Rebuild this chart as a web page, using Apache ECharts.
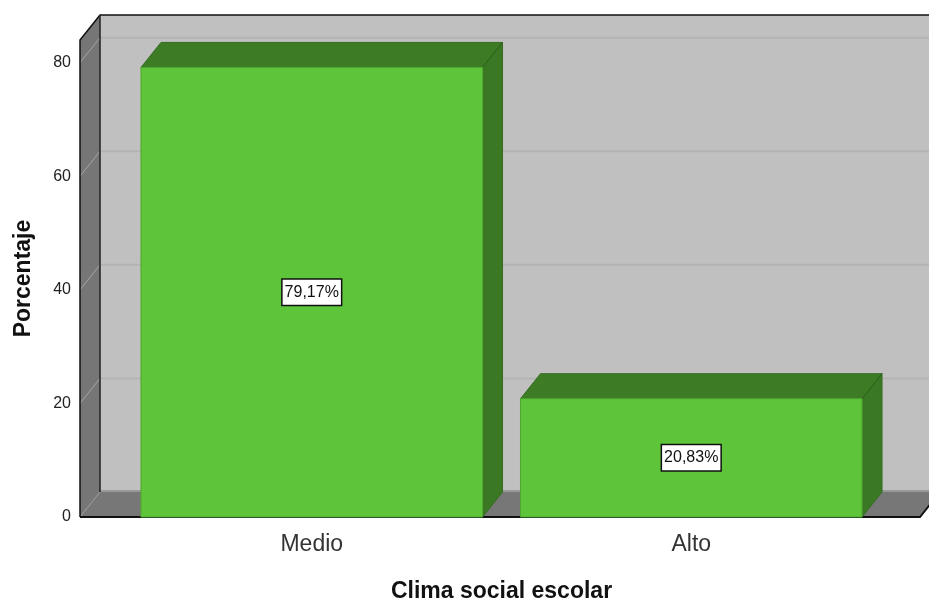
<!DOCTYPE html>
<html>
<head>
<meta charset="utf-8">
<script src="https://cdn.jsdelivr.net/npm/echarts@6.0.0/dist/echarts.min.js"></script>
<style>html,body{margin:0;padding:0;background:#fff}#c{width:929px;height:599px}</style>
</head>
<body>
<div id="c"></div>
<script>
const categories = ['Medio', 'Alto'];
const percentages = [79.17, 20.83];
const yTicks = [0, 20, 40, 60, 80];
const xTitle = 'Clima social escolar';
const yTitle = 'Porcentaje';

const DX = 20, DY = -25;      // 3D depth offset
const PAD_L = 42, PAD_R = 39; // floor extends beyond category band
const FONT = '"Liberation Sans", Arial, sans-serif';

function fmt(v) { return v.toFixed(2).replace('.', ',') + '%'; }

function renderWalls(params, api) {
  const cs = params.coordSys;
  const L = cs.x - PAD_L, R = cs.x + cs.width + PAD_R;
  const T = cs.y, B = cs.y + cs.height;
  const farR = R + DX + 60;
  const ch = [];
  ch.push({ type: 'rect', shape: { x: L + DX, y: T + DY, width: farR - (L + DX), height: B - T }, style: { fill: '#c0c0c0' } });
  yTicks.forEach(v => {
    if (v === 0) return;
    const y = api.coord([0, v])[1];
    ch.push({ type: 'line', shape: { x1: L + DX, y1: y + DY, x2: farR, y2: y + DY }, style: { stroke: '#b3b3b3', lineWidth: 2 } });
  });
  ch.push({ type: 'polygon', shape: { points: [[L, B], [L, T], [L + DX, T + DY], [L + DX, B + DY]] }, style: { fill: '#767676' } });
  yTicks.forEach(v => {
    if (v === 0) return;
    const y = api.coord([0, v])[1];
    ch.push({ type: 'line', shape: { x1: L, y1: y, x2: L + DX, y2: y + DY }, style: { stroke: '#a5a5a5', lineWidth: 1 } });
  });
  ch.push({ type: 'polygon', shape: { points: [[L, B], [L + DX, B + DY], [farR, B + DY], [R + DX, B + DY], [R, B]] }, style: { fill: '#777777' } });
  ch.push({ type: 'line', shape: { x1: L + DX, y1: B + DY - 1, x2: farR, y2: B + DY - 1 }, style: { stroke: '#999999', lineWidth: 2 } });
  ch.push({ type: 'line', shape: { x1: L, y1: B, x2: L + DX, y2: B + DY }, style: { stroke: '#9a9a9a', lineWidth: 1 } });
  const edge = { stroke: '#111', lineWidth: 1.5 };
  ch.push({ type: 'polyline', shape: { points: [[L, B], [L, T], [L + DX, T + DY], [farR, T + DY]] }, style: Object.assign({ fill: null }, edge) });
  ch.push({ type: 'line', shape: { x1: L + DX, y1: T + DY, x2: L + DX, y2: B + DY }, style: { stroke: '#222', lineWidth: 1.5 } });
  ch.push({ type: 'polyline', shape: { points: [[L, B], [R, B], [R + DX, B + DY]] }, style: Object.assign({ fill: null }, edge, { lineWidth: 2 }) });
  return { type: 'group', children: ch };
}

function renderBar(params, api) {
  const cat = api.value(0), val = api.value(1);
  const top = api.coord([cat, val]);
  const base = api.coord([cat, 0]);
  const w = api.size([1, 0])[0] * 0.9;
  const x0 = top[0] - w / 2, x1 = top[0] + w / 2;
  const yT = top[1], yB = base[1];
  return {
    type: 'group',
    children: [
      { type: 'polygon', shape: { points: [[x0, yT], [x0 + DX, yT + DY], [x1 + DX, yT + DY], [x1, yT]] }, style: { fill: '#3d7b25', stroke: '#356d20', lineWidth: 1 } },
      { type: 'polygon', shape: { points: [[x1, yT], [x1 + DX, yT + DY], [x1 + DX, yB + DY], [x1, yB]] }, style: { fill: '#3a7824', stroke: '#356d20', lineWidth: 1 } },
      { type: 'line', shape: { x1: x1, y1: yT, x2: x1 + DX, y2: yT + DY }, style: { stroke: '#2d621a', lineWidth: 1 } },
      { type: 'rect', shape: { x: x0, y: yT, width: w, height: yB - yT }, style: { fill: '#5ec43a', stroke: '#4fa832', lineWidth: 1 } },
      { type: 'text', x: top[0], y: (yT + yB) / 2, style: {
          text: fmt(val), fill: '#111', font: '16px ' + FONT, align: 'center', verticalAlign: 'middle',
          backgroundColor: '#ffffff', borderColor: '#111', borderWidth: 1.5, padding: [5, 2, 4, 2] } }
    ]
  };
}

const chart = echarts.init(document.getElementById('c'));
chart.setOption({
  animation: false,
  backgroundColor: '#ffffff',
  grid: { left: 122, right: 48, top: 40, bottom: 82, containLabel: false, outerBoundsMode: 'none' },
  xAxis: {
    type: 'category', data: categories,
    axisLine: { show: false }, axisTick: { show: false },
    axisLabel: { margin: 16, fontSize: 23, color: '#333', fontFamily: FONT },
    name: xTitle, nameLocation: 'middle', nameGap: 63,
    nameTextStyle: { fontSize: 23, fontWeight: 'bold', color: '#111', fontFamily: FONT }
  },
  yAxis: {
    type: 'value', min: 0, max: 84, interval: 20, offset: 42,
    axisLine: { show: false }, axisTick: { show: false }, splitLine: { show: false },
    axisLabel: { margin: 9, fontSize: 16, color: '#222', fontFamily: FONT, showMaxLabel: false,
      formatter: v => (yTicks.indexOf(v) >= 0 ? String(v) : '') },
    name: yTitle, nameLocation: 'middle', nameGap: 45, nameRotate: 90,
    nameTextStyle: { fontSize: 23, fontWeight: 'bold', color: '#111', fontFamily: FONT }
  },
  series: [
    { type: 'custom', name: 'walls', renderItem: renderWalls, data: [[0, 0]], clip: false, silent: true, z: 1 },
    { type: 'custom', name: 'Porcentaje', renderItem: renderBar, clip: false, z: 2,
      data: categories.map((c, i) => [i, percentages[i]]) }
  ]
});
</script>
</body>
</html>
